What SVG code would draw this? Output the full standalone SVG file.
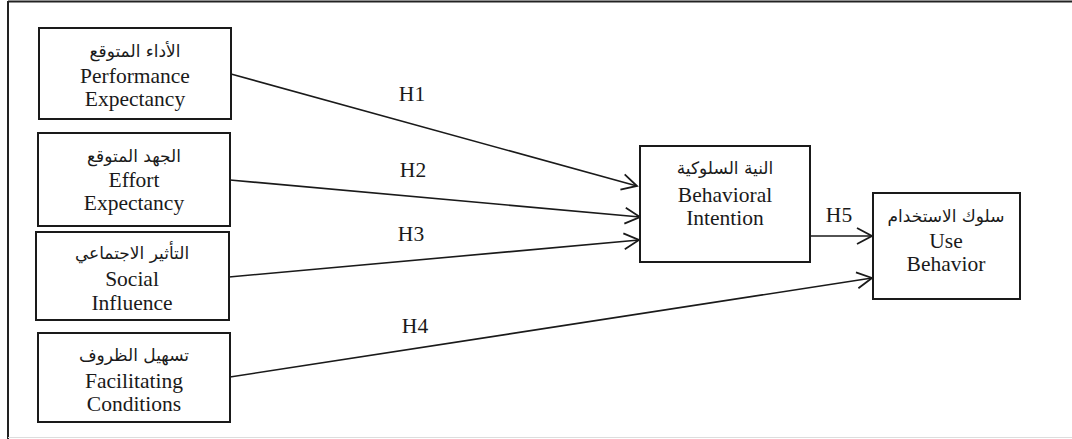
<svg xmlns="http://www.w3.org/2000/svg" width="1072" height="439" viewBox="0 0 1072 439">
<style>
.box{fill:#fff;stroke:#1a1a1a;stroke-width:2}
.t{font-family:'Liberation Serif','DejaVu Serif',serif;font-size:21.5px;fill:#1a1a1a;text-anchor:middle}
.ar{font-family:'DejaVu Sans',sans-serif;font-size:17px;fill:#1a1a1a;text-anchor:middle}
.c{stroke:#1a1a1a;stroke-width:1.6;fill:none;marker-end:url(#ah)}
</style>
<defs>
<marker id="ah" markerUnits="userSpaceOnUse" viewBox="-17 -10 19 20" refX="0" refY="0" markerWidth="19" markerHeight="20" orient="auto">
<path d="M-15,-8 L0,0 L-15,8" fill="none" stroke="#1a1a1a" stroke-width="1.8"/>
</marker>
</defs>
<rect width="1072" height="439" fill="#fff"/>
<g id="frame">
<line x1="8" y1="1.5" x2="1072" y2="1.5" stroke="#222" stroke-width="2"/>
<line x1="8" y1="1" x2="8" y2="439" stroke="#222" stroke-width="2"/>
<line x1="8" y1="437.5" x2="1072" y2="437.5" stroke="#ddd" stroke-width="1"/>
</g>
<g id="connectors">
<line class="c" x1="231" y1="74" x2="637" y2="186"/>
<line class="c" x1="230" y1="180" x2="640" y2="217"/>
<line class="c" x1="229" y1="277" x2="639" y2="240"/>
<line class="c" x1="230" y1="377" x2="872" y2="278"/>
<line class="c" x1="810" y1="236" x2="872" y2="236"/>
<text class="t" x="412" y="101">H1</text>
<text class="t" x="413" y="177">H2</text>
<text class="t" x="411" y="241">H3</text>
<text class="t" x="415" y="333">H4</text>
<text class="t" x="839" y="222">H5</text>
</g>
<g id="pe">
<rect class="box" x="39" y="28" width="192" height="91"/>
<text class="ar" x="135" y="57" direction="rtl">الأداء المتوقع</text>
<text class="t" x="135" y="83">Performance</text>
<text class="t" x="135" y="106">Expectancy</text>
</g>
<g id="ee">
<rect class="box" x="38" y="133" width="192" height="93"/>
<text class="ar" x="134" y="162" direction="rtl">الجهد المتوقع</text>
<text class="t" x="134" y="187">Effort</text>
<text class="t" x="134" y="210">Expectancy</text>
</g>
<g id="si">
<rect class="box" x="36" y="232" width="193" height="88"/>
<text class="ar" x="132" y="259" direction="rtl">التأثير الاجتماعي</text>
<text class="t" x="132" y="286">Social</text>
<text class="t" x="132" y="310">Influence</text>
</g>
<g id="fc">
<rect class="box" x="38" y="333" width="192" height="89"/>
<text class="ar" x="134" y="361" direction="rtl">تسهيل الظروف</text>
<text class="t" x="134" y="388">Facilitating</text>
<text class="t" x="134" y="411">Conditions</text>
</g>
<g id="bi">
<rect class="box" x="640" y="146" width="170" height="116"/>
<text class="ar" x="725" y="174" direction="rtl">النية السلوكية</text>
<text class="t" x="725" y="202">Behavioral</text>
<text class="t" x="725" y="225">Intention</text>
</g>
<g id="ub">
<rect class="box" x="873" y="193" width="147" height="106"/>
<text class="ar" x="946" y="222" direction="rtl">سلوك الاستخدام</text>
<text class="t" x="946" y="248">Use</text>
<text class="t" x="946" y="271">Behavior</text>
</g>
</svg>
